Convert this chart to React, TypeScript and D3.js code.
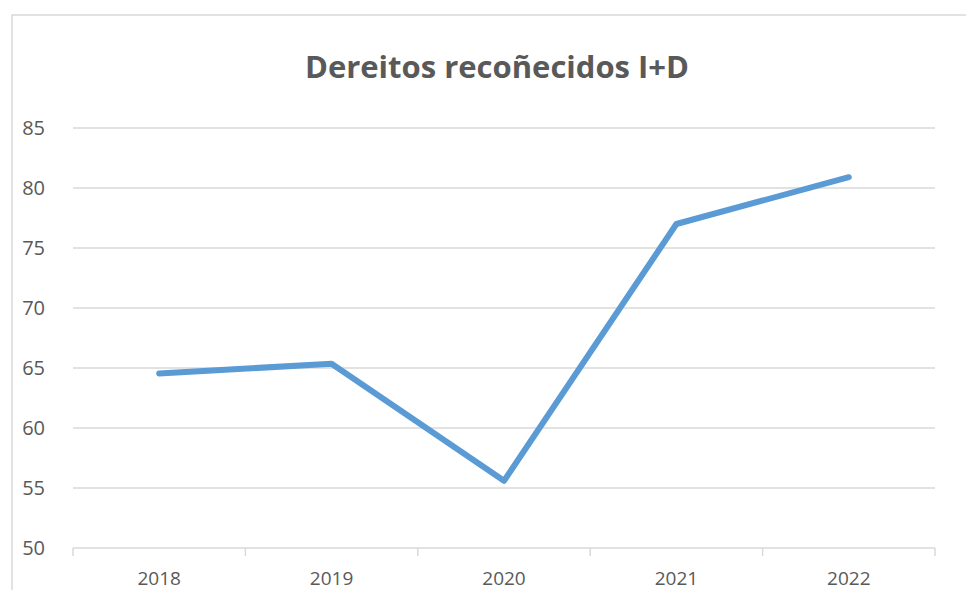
import React from "react";
import * as d3 from "d3";

const years = ["2018", "2019", "2020", "2021", "2022"];
const values = [64.55, 65.35, 55.6, 77.0, 80.9];
const yTicks = [50, 55, 60, 65, 70, 75, 80, 85];
const title = "Dereitos recoñecidos I+D";

export default function App() {
  const W = 966, H = 590;
  const left = 73, right = 935, top = 128, bottom = 548;
  const x = d3.scaleBand<string>().domain(years).range([left, right]);
  const y = d3.scaleLinear().domain([50, 85]).range([bottom, top]);
  const line = d3
    .line<number>()
    .x((_, i) => (x(years[i]) as number) + x.bandwidth() / 2)
    .y((d) => y(d));
  const font = "'Open Sans', 'Liberation Sans', sans-serif";
  const boundaries = years.map((yr) => x(yr) as number).concat([right]);
  return (
    <svg
      width={W}
      height={H}
      style={{ position: "absolute", left: 0, top: 0, background: "#fff" }}
    >
      <rect x={0} y={0} width={W} height={H} fill="#fff" />
      <rect x={12} y={15} width={W + 20} height={H + 20} fill="#fff" stroke="#d9d9d9" strokeWidth={1.5} />
      <text
        x={497}
        y={78}
        textAnchor="middle"
        fontFamily={font}
        fontWeight="bold"
        fontSize={31}
        fill="#595959"
      >
        {title}
      </text>
      {yTicks.map((t) => (
        <g key={t}>
          {t !== 50 && (
            <line x1={left} x2={right} y1={y(t)} y2={y(t)} stroke="#d9d9d9" strokeWidth={1.5} />
          )}
          <text
            x={45}
            y={y(t)}
            dy="0.35em"
            textAnchor="end"
            fontFamily={font}
            fontSize={20}
            fill="#595959"
          >
            {t}
          </text>
        </g>
      ))}
      <line x1={left} x2={right} y1={bottom} y2={bottom} stroke="#d9d9d9" strokeWidth={1.5} />
      {boundaries.map((bx, i) => (
        <line key={i} x1={bx} x2={bx} y1={bottom} y2={bottom + 8} stroke="#d9d9d9" strokeWidth={1.5} />
      ))}
      {years.map((yr) => (
        <text
          key={yr}
          x={(x(yr) as number) + x.bandwidth() / 2}
          y={578}
          dy="0.35em"
          textAnchor="middle"
          fontFamily={font}
          fontSize={19}
          fill="#595959"
        >
          {yr}
        </text>
      ))}
      <path
        d={line(values) || ""}
        fill="none"
        stroke="#5b9bd5"
        strokeWidth={6}
        strokeLinecap="round"
        strokeLinejoin="round"
      />
    </svg>
  );
}
